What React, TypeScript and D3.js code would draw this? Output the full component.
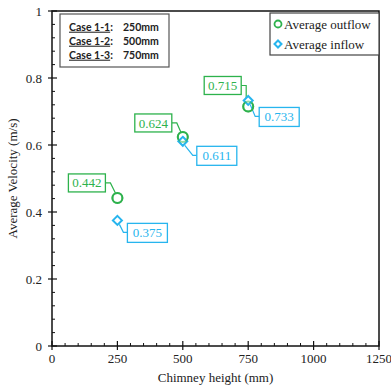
import * as d3 from "d3";

const heights = [250, 500, 750];
const outflow = [0.442, 0.624, 0.715];
const inflow = [0.375, 0.611, 0.733];
const caseNames = ["Case 1-1", "Case 1-2", "Case 1-3"];
const caseValues = ["250mm", "500mm", "750mm"];
const xTicks = [0, 250, 500, 750, 1000, 1250];
const yTicks = [0, 0.2, 0.4, 0.6, 0.8, 1];

// label box offsets from each point (layout only)
const outOffsets = [
  { dx: -12, dy: -15 },
  { dx: -11, dy: -14 },
  { dx: -7, dy: -21 },
];
const inOffsets = [
  { dx: 10, dy: 12 },
  { dx: 14, dy: 14 },
  { dx: 11, dy: 16 },
];

const green = "#2db24c";
const blue = "#27b5ee";
const serif = "'Liberation Serif', 'Times New Roman', serif";
const sans = "Lato, 'Open Sans', sans-serif";

const width = 391;
const height = 390;
const margin = { top: 11, right: 12, bottom: 44, left: 52 };
const innerW = width - margin.left - margin.right;
const innerH = height - margin.top - margin.bottom;

function Diamond({ cx, cy, r, color }: { cx: number; cy: number; r: number; color: string }) {
  return (
    <path
      d={`M${cx},${cy - r}L${cx + r},${cy}L${cx},${cy + r}L${cx - r},${cy}Z`}
      fill="white"
      stroke={color}
      strokeWidth={2}
    />
  );
}

export default function App() {
  const x = d3.scaleLinear().domain([0, 1250]).range([0, innerW]);
  const y = d3.scaleLinear().domain([0, 1]).range([innerH, 0]);

  const xMinor = d3.range(0, 1251, 50).filter((v) => v % 250 !== 0);
  const yMinor = d3.range(0, 101, 4).map((v) => v / 100).filter((v) => Math.round(v * 100) % 20 !== 0);

  const boxW = 37;
  const boxH = 18;

  return (
    <svg width={width} height={height} style={{ position: "absolute", left: 0, top: 0 }}>
      <rect width={width} height={height} fill="white" />
      <g transform={`translate(${margin.left},${margin.top})`}>
        {/* frame */}
        <rect x={0} y={0} width={innerW} height={innerH} fill="none" stroke="#111" strokeWidth={1.5} />

        {/* x ticks */}
        {xTicks.map((t) => (
          <g key={"xt" + t}>
            <line x1={x(t)} x2={x(t)} y1={innerH - 5} y2={innerH + 4} stroke="#111" strokeWidth={1.2} />
            <text x={x(t)} y={innerH + 17} textAnchor="middle" fontFamily={serif} fontSize={13} fill="#222">
              {t}
            </text>
          </g>
        ))}
        {xMinor.map((t) => (
          <line key={"xm" + t} x1={x(t)} x2={x(t)} y1={innerH - 3} y2={innerH} stroke="#111" strokeWidth={1} />
        ))}

        {/* y ticks */}
        {yTicks.map((t) => (
          <g key={"yt" + t}>
            <line x1={-4} x2={5} y1={y(t)} y2={y(t)} stroke="#111" strokeWidth={1.2} />
            <text x={-10} y={y(t)} dy="0.35em" textAnchor="end" fontFamily={serif} fontSize={13} fill="#222">
              {t}
            </text>
          </g>
        ))}
        {yMinor.map((t) => (
          <line key={"ym" + t} x1={0} x2={3} y1={y(t)} y2={y(t)} stroke="#111" strokeWidth={1} />
        ))}

        {/* axis titles */}
        <text
          x={innerW / 2}
          y={innerH + 36}
          textAnchor="middle"
          fontFamily={serif}
          fontSize={13}
          fill="#222"
        >
          Chimney height (mm)
        </text>
        <text
          transform={`translate(${-35},${innerH / 2}) rotate(-90)`}
          textAnchor="middle"
          fontFamily={serif}
          fontSize={13}
          fill="#222"
        >
          Average Velocity (m/s)
        </text>

        {/* outflow labels */}
        {heights.map((h, i) => {
          const px = x(h);
          const py = y(outflow[i]);
          const right = px + outOffsets[i].dx;
          const cy = py + outOffsets[i].dy;
          return (
            <g key={"ol" + i}>
              <polyline
                points={`${right},${cy} ${right + 5},${cy} ${px - 2},${py - 5}`}
                fill="none"
                stroke={green}
                strokeWidth={1.2}
              />
              <rect x={right - boxW} y={cy - boxH / 2} width={boxW} height={boxH} fill="white" stroke={green} strokeWidth={1.3} />
              <text x={right - boxW / 2} y={cy} dy="0.35em" textAnchor="middle" fontFamily={serif} fontSize={13} fill={green}>
                {outflow[i].toFixed(3)}
              </text>
            </g>
          );
        })}

        {/* inflow labels */}
        {heights.map((h, i) => {
          const px = x(h);
          const py = y(inflow[i]);
          const left = px + inOffsets[i].dx;
          const cy = py + inOffsets[i].dy;
          return (
            <g key={"il" + i}>
              <polyline
                points={`${px + 2},${py + 4} ${left - 4},${cy} ${left},${cy}`}
                fill="none"
                stroke={blue}
                strokeWidth={1.2}
              />
              <rect x={left} y={cy - boxH / 2} width={boxW + 3} height={boxH + 1} fill="white" stroke={blue} strokeWidth={1.3} />
              <text x={left + (boxW + 3) / 2} y={cy + 0.5} dy="0.35em" textAnchor="middle" fontFamily={serif} fontSize={13} fill={blue}>
                {inflow[i].toFixed(3)}
              </text>
            </g>
          );
        })}

        {/* markers */}
        {heights.map((h, i) => (
          <circle key={"oc" + i} cx={x(h)} cy={y(outflow[i])} r={5} fill="none" stroke={green} strokeWidth={2} />
        ))}
        {heights.map((h, i) => (
          <Diamond key={"id" + i} cx={x(h)} cy={y(inflow[i])} r={4.5} color={blue} />
        ))}
        {heights.map((h, i) => (
          <circle key={"oc2" + i} cx={x(h)} cy={y(outflow[i])} r={5} fill="none" stroke={green} strokeWidth={2} opacity={0.5} />
        ))}

        {/* case legend */}
        <g transform={`translate(${60 - margin.left},${14 - margin.top})`}>
          <rect x={0} y={0} width={109} height={53} fill="white" stroke="#555" strokeWidth={1.2} />
          {caseNames.map((c, i) => (
            <g key={c} transform={`translate(0,${13 + i * 14})`}>
              <text x={9} y={0} dy="0.35em" fontFamily={sans} fontWeight="bold" fontSize={10.5} fill="#222">
                <tspan textDecoration="underline">{c}</tspan>:
              </text>
              <text x={63} y={0} dy="0.35em" fontFamily={sans} fontWeight="bold" fontSize={10.5} fill="#222">
                {caseValues[i]}
              </text>
            </g>
          ))}
        </g>

        {/* series legend */}
        <g transform={`translate(${270 - margin.left},${13 - margin.top})`}>
          <rect x={0} y={0} width={109} height={42} fill="white" stroke="#444" strokeWidth={1.2} />
          <circle cx={8} cy={11} r={3.5} fill="none" stroke={green} strokeWidth={1.8} />
          <text x={14} y={11} dy="0.35em" fontFamily={serif} fontSize={13} fill="#222">
            Average outflow
          </text>
          <Diamond cx={8} cy={31} r={3.5} color={blue} />
          <text x={14} y={31} dy="0.35em" fontFamily={serif} fontSize={13} fill="#222">
            Average inflow
          </text>
        </g>
      </g>
    </svg>
  );
}
